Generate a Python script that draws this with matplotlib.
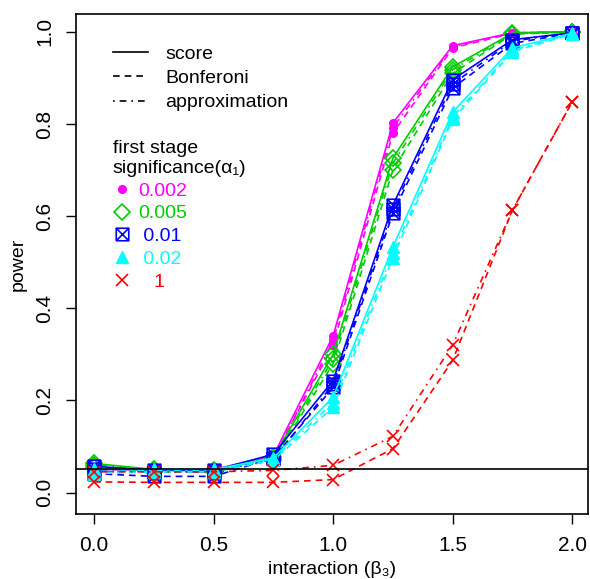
import numpy as np
import matplotlib.pyplot as plt
from matplotlib.path import Path
from matplotlib.lines import Line2D

plt.rcParams['font.family'] = ['Liberation Sans', 'DejaVu Sans']

# interaction effect sizes
beta3 = [0.0, 0.25, 0.5, 0.75, 1.0, 1.25, 1.5, 1.75, 2.0]

# power for alpha1 = 0.002
p002_score = [0.050, 0.048, 0.050, 0.080, 0.340, 0.802, 0.970, 0.998, 1.000]
p002_bonf = [0.045, 0.045, 0.045, 0.075, 0.320, 0.780, 0.965, 0.997, 1.000]
p002_appr = [0.050, 0.047, 0.048, 0.072, 0.330, 0.792, 0.968, 0.998, 1.000]

# alpha1 = 0.005
p005_score = [0.063, 0.050, 0.048, 0.076, 0.300, 0.726, 0.924, 0.997, 1.000]
p005_bonf = [0.055, 0.045, 0.045, 0.070, 0.280, 0.700, 0.910, 0.995, 1.000]
p005_appr = [0.060, 0.048, 0.047, 0.072, 0.290, 0.715, 0.918, 0.996, 1.000]

# alpha1 = 0.01
p01_score = [0.057, 0.048, 0.048, 0.083, 0.243, 0.624, 0.896, 0.983, 0.998]
p01_bonf = [0.041, 0.035, 0.035, 0.075, 0.228, 0.606, 0.878, 0.975, 0.997]
p01_appr = [0.050, 0.045, 0.045, 0.072, 0.235, 0.615, 0.887, 0.980, 0.998]

# alpha1 = 0.02
p02_score = [0.050, 0.050, 0.050, 0.075, 0.207, 0.533, 0.826, 0.965, 0.997]
p02_bonf = [0.041, 0.045, 0.045, 0.070, 0.185, 0.510, 0.810, 0.957, 0.995]
p02_appr = [0.045, 0.048, 0.048, 0.072, 0.195, 0.520, 0.815, 0.960, 0.996]

# alpha1 = 1 (single stage)
p1_bonf = [0.023, 0.022, 0.022, 0.022, 0.028, 0.095, 0.287, 0.613, 0.848]
p1_appr = [0.045, 0.045, 0.045, 0.048, 0.059, 0.122, 0.320, 0.613, 0.848]

alpha_labels = ["0.002", "0.005", " 0.01", " 0.02", "   1"]

# square with an x inside (R pch 7)
sqx = Path([(-1, -1), (1, -1), (1, 1), (-1, 1), (-1, -1),
            (-1, -1), (1, 1), (-1, 1), (1, -1)],
           [Path.MOVETO, Path.LINETO, Path.LINETO, Path.LINETO, Path.LINETO,
            Path.MOVETO, Path.LINETO, Path.MOVETO, Path.LINETO])

groups = [
    ("#FF00FF", dict(marker='o', ms=5.5, mfc="#FF00FF"), [p002_score, p002_bonf, p002_appr]),
    ("#00CD00", dict(marker='D', ms=8, mfc='none', mew=1.2), [p005_score, p005_bonf, p005_appr]),
    ("#0000FF", dict(marker=sqx, ms=9, mfc='none', mew=1.2), [p01_score, p01_bonf, p01_appr]),
    ("#00FFFF", dict(marker='^', ms=8, mfc="#00FFFF"), [p02_score, p02_bonf, p02_appr]),
    ("#FF0000", dict(marker='x', ms=9, mew=1.2), [None, p1_bonf, p1_appr]),
]
styles = ['-', (0, (4, 3)), (0, (1, 3, 4, 3))]

fig = plt.figure(figsize=(5.9, 5.79), dpi=100)
ax = fig.add_axes([0.129, 0.112, 0.868, 0.864])

for color, mk, series in groups:
    for ls, y in zip(styles, series):
        if y is None:
            continue
        ax.plot(beta3, y, color=color, ls=ls, lw=1.2, mec=color, **mk)

ax.axhline(0.05, color='black', lw=1.2)

ax.set_xlim(-0.075, 2.067)
ax.set_ylim(-0.047, 1.039)
ax.set_xticks([0.0, 0.5, 1.0, 1.5, 2.0])
ax.set_xticklabels(["0.0", "0.5", "1.0", "1.5", "2.0"])
ax.set_yticks([0.0, 0.2, 0.4, 0.6, 0.8, 1.0])
ax.set_yticklabels(["0.0", "0.2", "0.4", "0.6", "0.8", "1.0"], rotation=90, va='center')
ax.tick_params(direction='out', length=7, width=1, labelsize=15, pad=9)
for s in ax.spines.values():
    s.set_linewidth(1.2)
ax.set_xlabel("interaction (β₃)", fontsize=14, labelpad=4)
ax.set_ylabel("power", fontsize=14, labelpad=6)

# line type legend
line_handles = [Line2D([], [], color='black', lw=1.2, ls=ls) for ls in styles]
leg1 = ax.legend(line_handles, ["score", "Bonferoni", "approximation"],
                 loc='upper left', bbox_to_anchor=(0.045, 0.965), frameon=False,
                 fontsize=14, handlelength=1.8, handletextpad=0.9, labelspacing=0.35,
                 borderpad=0.2)
ax.add_artist(leg1)

# significance legend
mk_handles = [Line2D([], [], color=c, ls='none', mec=c, **mk) for c, mk, _ in groups]
leg2 = ax.legend(mk_handles, alpha_labels, loc='upper left', bbox_to_anchor=(0.045, 0.775),
                 frameon=False, fontsize=14, handlelength=1.0, handletextpad=0.3,
                 labelspacing=0.27, title="first stage\nsignificance(α₁)",
                 title_fontsize=14, alignment='left', borderpad=0.2)
for txt, (c, _, _) in zip(leg2.get_texts(), groups):
    txt.set_color(c)

fig.savefig("out.png", dpi=100)
